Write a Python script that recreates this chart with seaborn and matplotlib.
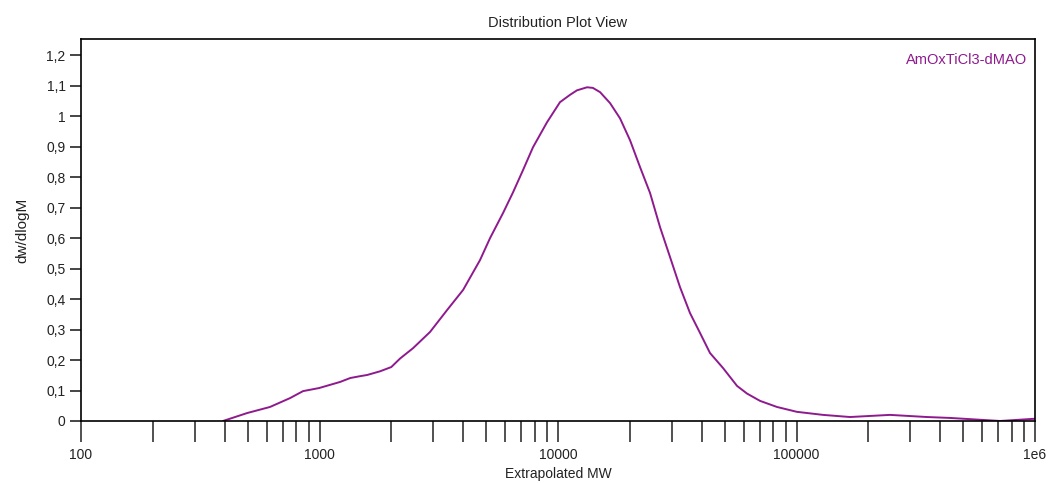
import matplotlib
matplotlib.use("Agg")
import matplotlib.pyplot as plt
import matplotlib.ticker as mticker
import matplotlib.transforms as mtransforms
import seaborn as sns
import pandas as pd

# Molecular weight (Extrapolated MW) and dw/dlogM values
mw = [394, 497, 620, 752, 853, 995, 1219, 1346, 1479, 1585, 1794, 2000,
      2177, 2468, 2906, 3427, 4000, 4710, 5188, 5879, 6475, 7131, 7853,
      8990, 10190, 11220, 12010, 13240, 14000, 15010, 16530, 18200, 20050,
      22080, 24320, 26780, 29490, 32480, 35770, 39390, 43380, 49170, 56330,
      62010, 70310, 82820, 100400, 129200, 167600, 246600, 352500, 440400,
      713700, 982000, 1000000]
dwdlogm = [0.0, 0.026, 0.046, 0.075, 0.098, 0.108, 0.128, 0.141, 0.147,
           0.151, 0.163, 0.177, 0.205, 0.239, 0.292, 0.364, 0.43, 0.528,
           0.60, 0.682, 0.75, 0.823, 0.898, 0.98, 1.046, 1.07, 1.085, 1.095,
           1.093, 1.079, 1.043, 0.993, 0.921, 0.833, 0.748, 0.636, 0.538,
           0.439, 0.354, 0.289, 0.223, 0.174, 0.115, 0.09, 0.066, 0.046,
           0.03, 0.02, 0.013, 0.02, 0.013, 0.01, 0.0, 0.007, 0.007]
series_name = "AmOxTiCl3-dMAO"
y_ticks = [0, 0.1, 0.2, 0.3, 0.4, 0.5, 0.6, 0.7, 0.8, 0.9, 1.0, 1.1, 1.2]
x_major = [100, 1000, 10000, 100000, 1000000]
x_major_labels = ["100", "1000", "10000", "100000", "1e6"]

sns.set_style("ticks")
plt.rcParams['font.family'] = ['Liberation Sans', 'DejaVu Sans']

df = pd.DataFrame({"MW": mw, "val": dwdlogm})

fig = plt.figure(figsize=(10.48, 4.83), dpi=100)
ax = fig.add_axes([0.0773, 0.1284, 0.9103, 0.7906])
color = "#8e1a8e"
sns.lineplot(data=df, x="MW", y="val", ax=ax, color=color, linewidth=1.4)
ax.set_xscale("log")
ax.set_xlim(100, 1e6)
ax.set_ylim(0, 1.253)

ax.xaxis.set_major_locator(mticker.FixedLocator(x_major))
ax.xaxis.set_major_formatter(mticker.NullFormatter())
minor = [m * d for d in (100, 1000, 10000, 100000) for m in range(2, 10)]
ax.xaxis.set_minor_locator(mticker.FixedLocator(minor))
ax.xaxis.set_minor_formatter(mticker.NullFormatter())
ax.tick_params(axis="x", which="both", direction="out", length=15, width=1.2,
               color="#333333")
# x tick labels placed at the major tick positions (data x, axes y)
trans = mtransforms.blended_transform_factory(ax.transData, ax.transAxes)
for xv, lab in zip(x_major, x_major_labels):
    ax.text(xv, -0.09, lab, transform=trans, ha="center", va="center",
            fontsize=10, color="#222222", clip_on=False)

ax.set_yticks(y_ticks)
ax.set_yticklabels([("%g" % v).replace(".", ",") for v in y_ticks])
ax.tick_params(axis="y", direction="out", length=8, width=1.2,
               labelsize=10, labelcolor="#222222", pad=3)

for s in ax.spines.values():
    s.set_linewidth(1.2)
    s.set_color("black")

ax.set_xlabel("Extrapolated MW", fontsize=10, va="center", color="#222222")
ax.xaxis.set_label_coords(0.5, -0.139)
ax.set_ylabel("dw/dlogM", fontsize=11, labelpad=12, color="#222222")
ax.set_title("Distribution Plot View", fontsize=10.5, pad=9, color="#222222")
ax.text(0.992, 0.945, series_name, transform=ax.transAxes, ha="right",
        va="center", color=color, fontsize=10.5)

fig.savefig("out.png", dpi=100)
